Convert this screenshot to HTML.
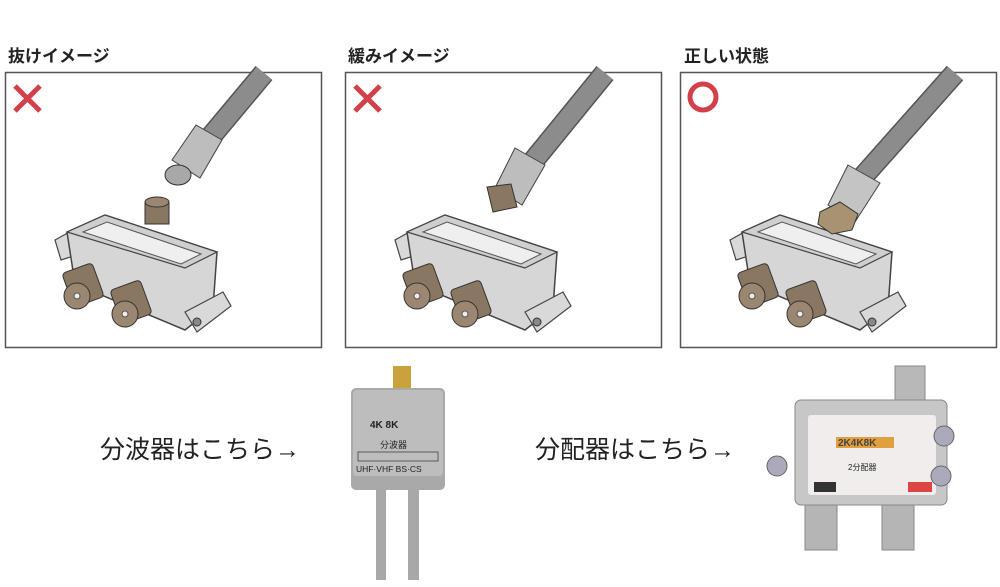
<!DOCTYPE html>
<html><head><meta charset="utf-8"><style>
body{margin:0;width:1000px;height:587px;background:#fff;overflow:hidden;font-family:"Liberation Sans","Noto Sans CJK JP",sans-serif;position:relative}
.t{position:absolute;top:42px;font-size:17px;font-weight:bold;color:#222}
.b{position:absolute;font-size:25px;color:#222;top:430px}
</style></head><body>
<div class="t" style="left:8px">抜けイメージ</div>
<div class="t" style="left:348px">緩みイメージ</div>
<div class="t" style="left:684px">正しい状態</div>
<div class="b" style="left:100px">分波器はこちら→</div>
<div class="b" style="left:535px">分配器はこちら→</div>
<svg width="1000" height="587" style="position:absolute;left:0;top:0">
<defs>
<g id="dev">
<polygon points="50,168 68,158 75,182 56,188" fill="#d9d9d9" stroke="#444" stroke-width="1.2"/>
<polygon points="62,160 100,143 212,180 208,236 180,258 70,212" fill="#d6d6d6" stroke="#444" stroke-width="1.5"/>
<polygon points="62,160 100,143 212,180 180,196" fill="#cfcfcf" stroke="#444" stroke-width="1.2"/>
<polygon points="78,160 102,150 196,182 176,192" fill="#efefef" stroke="#555" stroke-width="1"/>
<polygon points="180,240 218,220 226,234 192,260" fill="#d9d9d9" stroke="#444" stroke-width="1.2"/>
<circle cx="192" cy="250" r="4" fill="#888" stroke="#333"/>
<rect x="62" y="195" width="32" height="36" rx="4" fill="#8a7762" stroke="#333" transform="rotate(-20 78 213)"/>
<circle cx="72" cy="224" r="13" fill="#9b8771" stroke="#333"/><circle cx="72" cy="224" r="3" fill="#eee" stroke="#555"/>
<rect x="110" y="212" width="32" height="36" rx="4" fill="#8a7762" stroke="#333" transform="rotate(-20 126 230)"/>
<circle cx="120" cy="242" r="13" fill="#9b8771" stroke="#333"/><circle cx="120" cy="242" r="3" fill="#eee" stroke="#555"/>
</g>
</defs>
<!-- panel frames -->
<rect x="5.5" y="72.5" width="316" height="275" fill="#fff" stroke="#555" stroke-width="1.5"/>
<rect x="345.5" y="72.5" width="316" height="275" fill="#fff" stroke="#555" stroke-width="1.5"/>
<rect x="680.5" y="72.5" width="316" height="275" fill="#fff" stroke="#555" stroke-width="1.5"/>
<!-- marks -->
<g stroke="#d2404a" stroke-width="5"><path d="M15 86 L40 111 M40 86 L15 111"/><path d="M355 86 L380 111 M380 86 L355 111"/></g>
<circle cx="703" cy="97" r="13" fill="none" stroke="#d2404a" stroke-width="5"/>
<!-- panel1 -->
<line x1="264" y1="73" x2="208" y2="140" stroke="#555" stroke-width="22"/><line x1="264" y1="73" x2="208" y2="140" stroke="#8c8c8c" stroke-width="19"/>
<g transform="translate(5,72)"><rect x="140" y="130" width="24" height="22" fill="#8a7762" stroke="#333"/><ellipse cx="152" cy="130" rx="12" ry="5" fill="#9b8771" stroke="#333"/><use href="#dev"/></g>
<polygon points="196,125 222,140 200,178 172,160" fill="#bdbdbd" stroke="#444"/>
<ellipse cx="178" cy="175" rx="13" ry="10" fill="#a8a8a8" stroke="#333"/>
<!-- panel2 -->
<line x1="605" y1="73" x2="530" y2="165" stroke="#555" stroke-width="22"/><line x1="605" y1="73" x2="530" y2="165" stroke="#8c8c8c" stroke-width="19"/>
<polygon points="515,148 545,165 522,205 495,188" fill="#bdbdbd" stroke="#444"/>
<g transform="translate(345,72)"><use href="#dev"/><polygon points="142,115 166,112 172,135 148,140" fill="#8a7762" stroke="#333"/></g>
<!-- panel3 -->
<line x1="955" y1="73" x2="860" y2="180" stroke="#555" stroke-width="22"/><line x1="955" y1="73" x2="860" y2="180" stroke="#8c8c8c" stroke-width="19"/>
<polygon points="848,165 880,183 855,222 828,205" fill="#c4c4c4" stroke="#444"/>
<g transform="translate(680,72)"><use href="#dev"/><polygon points="140,140 160,130 178,142 172,158 152,162 138,152" fill="#a89272" stroke="#333"/></g>
<!-- gray splitter -->
<rect x="376" y="488" width="10" height="92" fill="#a8a8a8"/><rect x="408" y="488" width="11" height="92" fill="#a8a8a8"/>
<rect x="393" y="366" width="18" height="24" fill="#c9a23c"/>
<rect x="351" y="388" width="94" height="102" rx="5" fill="#a9a9a9"/>
<rect x="353" y="390" width="90" height="86" rx="4" fill="#bdbdbd"/>
<text x="370" y="428" font-size="10" font-weight="bold" fill="#222">4K 8K</text>
<text x="380" y="448" font-size="9" fill="#222">分波器</text>
<rect x="358" y="452" width="80" height="9" fill="none" stroke="#333" stroke-width="0.7"/>
<text x="356" y="472" font-size="8.5" fill="#222">UHF·VHF  BS·CS</text>
<!-- silver splitter -->
<rect x="895" y="366" width="30" height="42" fill="#b8b8b8" stroke="#888"/>
<rect x="805" y="495" width="32" height="55" fill="#b5b5b5" stroke="#888"/><rect x="882" y="495" width="32" height="55" fill="#b5b5b5" stroke="#888"/>
<rect x="795" y="400" width="152" height="105" rx="6" fill="#c7c7c7" stroke="#888"/>
<rect x="808" y="415" width="128" height="80" rx="3" fill="#f1eded"/>
<rect x="836" y="437" width="58" height="11" fill="#e0a040"/>
<text x="838" y="446" font-size="10" font-weight="bold" fill="#444">2K4K8K</text>
<text x="848" y="470" font-size="8" fill="#222">2分配器</text>
<rect x="814" y="482" width="22" height="10" fill="#333"/><rect x="908" y="482" width="24" height="10" fill="#d44"/>
<circle cx="777" cy="466" r="10" fill="#aab" stroke="#666"/><circle cx="944" cy="436" r="10" fill="#aab" stroke="#666"/><circle cx="941" cy="476" r="10" fill="#aab" stroke="#666"/>
</svg>
</body></html>
